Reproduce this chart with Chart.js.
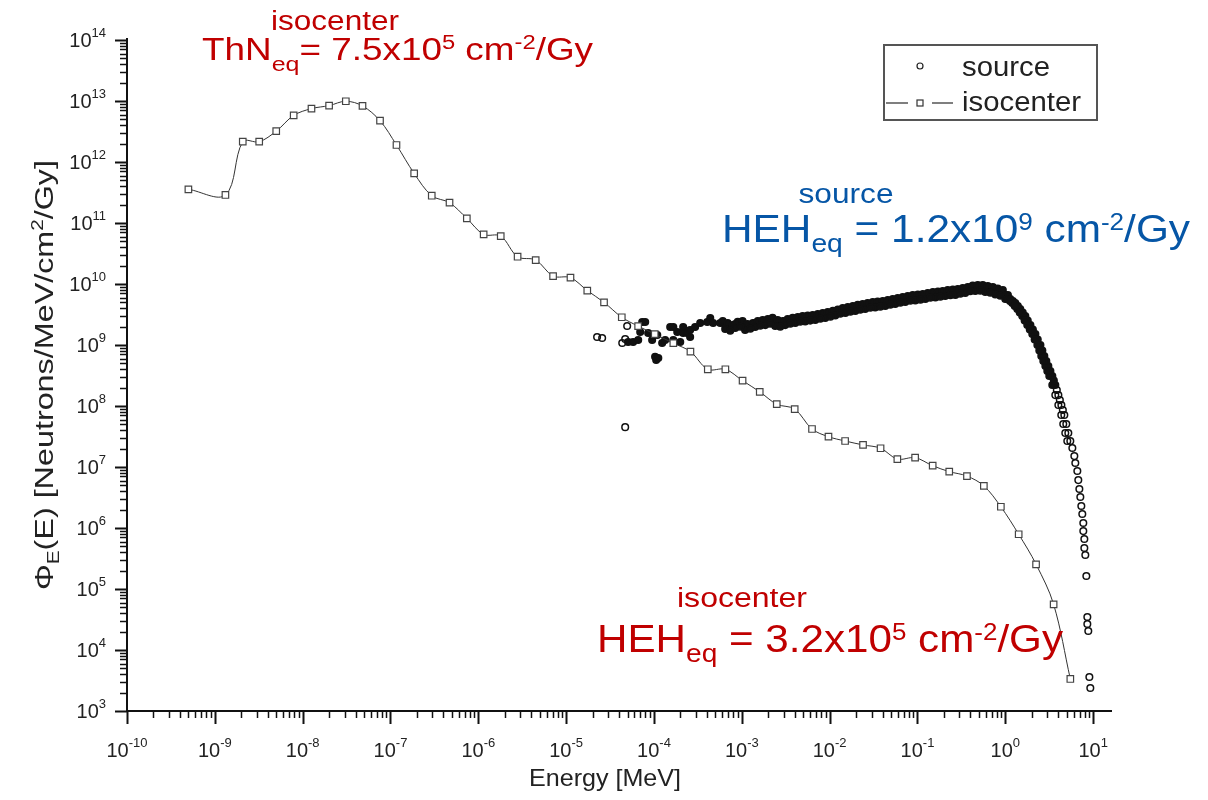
<!DOCTYPE html>
<html>
<head>
<meta charset="utf-8">
<script src="https://cdn.jsdelivr.net/npm/chart.js@4.4.1/dist/chart.umd.min.js"></script>
<style>
  html, body { margin: 0; padding: 0; background: #fff; overflow: hidden; }
  canvas { display: block; }
</style>
</head>
<body>
<canvas id="spectrum" width="1208" height="800"></canvas>
<script>
// isocenter spectrum (squares + line)
const isoEnergy = [5.0e-10, 1.32e-9, 2.08e-9, 3.2e-9, 5.0e-9, 7.9e-9, 1.26e-8, 2.0e-8, 3.1e-8, 4.8e-8,
  7.6e-8, 1.17e-7, 1.86e-7, 2.95e-7, 4.7e-7, 7.4e-7, 1.15e-6, 1.8e-6, 2.8e-6, 4.5e-6,
  7.1e-6, 1.12e-5, 1.74e-5, 2.7e-5, 4.3e-5, 6.6e-5, 1.02e-4, 1.66e-4, 2.6e-4, 4.1e-4,
  6.5e-4, 1.02e-3, 1.6e-3, 2.5e-3, 4.0e-3, 6.3e-3, 9.7e-3, 1.5e-2, 2.4e-2, 3.8e-2,
  5.9e-2, 9.4e-2, 0.149, 0.23, 0.366, 0.57, 0.89, 1.42, 2.24, 3.55, 5.5];
const isoFlux = [3.57e11, 2.88e11, 2.15e12, 2.15e12, 3.2e12, 5.8e12, 7.5e12, 8.4e12, 9.9e12, 8.3e12,
  4.75e12, 1.9e12, 6.5e11, 2.8e11, 2.15e11, 1.19e11, 6.5e10, 6.1e10, 2.8e10, 2.47e10,
  1.35e10, 1.27e10, 7.8e9, 5.0e9, 2.85e9, 2.04e9, 1.51e9, 1.07e9, 7.8e8, 4.0e8,
  4.0e8, 2.6e8, 1.71e8, 1.07e8, 8.9e7, 4.2e7, 3.14e7, 2.67e7, 2.3e7, 2.03e7,
  1.35e7, 1.42e7, 1.05e7, 8.4e6, 7.1e6, 4.9e6, 2.23e6, 7.9e5, 2.54e5, 5.6e4, 3.35e3];

// source spectrum (open circles)
const srcEnergy = [
  // scattered low-energy points
  2.25e-5, 2.57e-5, 4.70e-5, 4.95e-5, 5.08e-5, 5.79e-5, 6.61e-5, 6.97e-5, 7.35e-5, 7.94e-5,
  8.59e-5, 9.53e-5, 9.79e-5, 1.03e-4, 1.06e-4, 1.12e-4, 1.09e-4, 1.24e-4, 1.34e-4, 1.53e-4,
  1.66e-4, 1.66e-4, 1.84e-4, 1.99e-4, 2.15e-4, 2.15e-4, 2.39e-4, 2.58e-4, 2.58e-4, 2.94e-4,
  3.36e-4, 4.04e-4, 4.37e-4, 4.72e-4, 4.35e-5, 4.70e-5,
  // main band, centre
  5.68e-4, 6.47e-4, 7.38e-4, 8.41e-4, 9.59e-4, 1.09e-3, 1.25e-3, 1.42e-3, 1.62e-3, 1.85e-3,
  2.10e-3, 2.40e-3, 2.74e-3, 3.12e-3, 3.56e-3, 4.06e-3, 4.62e-3, 5.27e-3, 6.01e-3, 6.86e-3,
  7.82e-3, 8.91e-3, 1.02e-2, 1.16e-2, 1.32e-2, 1.51e-2, 1.72e-2, 1.96e-2, 2.23e-2, 2.54e-2,
  2.90e-2, 3.30e-2, 3.77e-2, 4.30e-2, 4.90e-2, 5.58e-2, 6.37e-2, 7.26e-2, 8.28e-2, 9.44e-2,
  0.108, 0.123, 0.140, 0.160, 0.182, 0.207, 0.237, 0.270, 0.307, 0.350,
  0.399, 0.455, 0.519, 0.592, 0.675, 0.769, 0.877, 1.00,
  // main band, upper edge
  6.07e-4, 6.91e-4, 7.88e-4, 8.98e-4, 1.02e-3, 1.16e-3, 1.34e-3, 1.52e-3, 1.73e-3, 1.98e-3,
  2.24e-3, 2.56e-3, 2.93e-3, 3.33e-3, 3.80e-3, 4.34e-3, 4.93e-3, 5.63e-3, 6.42e-3, 7.33e-3,
  8.35e-3, 9.52e-3, 1.09e-2, 1.24e-2, 1.41e-2, 1.61e-2, 1.84e-2, 2.09e-2, 2.38e-2, 2.71e-2,
  3.10e-2, 3.52e-2, 4.03e-2, 4.59e-2, 5.23e-2, 5.96e-2, 6.80e-2, 7.75e-2, 8.84e-2, 0.101,
  0.115, 0.131, 0.150, 0.171, 0.194, 0.221, 0.253, 0.288, 0.328, 0.374,
  0.426, 0.486, 0.554, 0.632, 0.721, 0.821, 0.937, 1.07,
  // main band, lower edge
  6.47e-4, 8.41e-4, 1.09e-3, 1.42e-3, 1.85e-3, 2.40e-3, 3.12e-3, 4.06e-3, 5.27e-3, 6.86e-3,
  8.91e-3, 1.16e-2, 1.51e-2, 1.96e-2, 2.54e-2, 3.30e-2, 4.30e-2, 5.58e-2, 7.26e-2, 9.44e-2,
  0.123, 0.160, 0.207, 0.270, 0.350, 0.455, 0.592, 0.769, 1.00,
  7.38e-4, 9.59e-4, 1.25e-3, 1.62e-3, 2.10e-3, 2.74e-3, 3.56e-3, 4.62e-3, 6.01e-3, 7.82e-3,
  1.02e-2, 1.32e-2, 1.72e-2, 2.23e-2, 2.90e-2, 3.77e-2, 4.90e-2, 6.37e-2, 8.28e-2, 0.108,
  0.140, 0.182, 0.237, 0.307, 0.399, 0.519, 0.675, 0.877,
  // high-energy fall-off
  1.14, 1.30, 1.48, 1.69, 1.93, 2.20, 2.51, 2.78, 3.09, 3.43,
  3.71, 4.02, 4.35, 4.70, 4.95, 5.22, 5.50, 5.80, 6.11, 6.27,
  6.61, 6.78, 6.97, 7.15, 7.34, 7.53, 7.73, 7.73, 7.94, 7.94,
  8.15, 8.37, 8.59, 8.59, 8.81, 9.06, 9.29,
  1.05, 1.20, 1.37, 1.56, 1.78, 2.03, 2.32, 2.57, 2.86, 3.17,
  3.43, 3.71, 4.02, 4.34, 4.57, 4.82, 5.08,
  1.22, 1.39, 1.58, 1.80, 2.06, 2.34, 2.64, 2.93, 3.26, 3.57,
  3.86, 4.18, 4.52,
  1.13, 1.28, 1.46, 1.66, 1.90, 2.16, 2.44, 2.71, 3.01];
const srcFlux = [
  1.35e9, 1.30e9, 4.5e7, 2.05e9, 1.12e9, 1.12e9, 1.21e9, 1.63e9, 2.38e9, 2.38e9,
  1.57e9, 1.21e9, 1.46e9, 6.4e8, 5.7e8, 6.1e8, 1.46e9, 1.08e9, 1.21e9, 1.97e9,
  1.21e9, 1.97e9, 1.63e9, 1.12e9, 1.97e9, 1.57e9, 1.57e9, 1.35e9, 1.76e9, 1.97e9,
  2.29e9, 2.38e9, 2.77e9, 2.29e9, 1.08e9, 1.25e9,
  2.29e9, 2.13e9, 1.97e9, 2.21e9, 2.29e9, 2.05e9, 2.13e9, 2.29e9, 2.38e9, 2.47e9,
  2.57e9, 2.38e9, 2.29e9, 2.47e9, 2.57e9, 2.67e9, 2.77e9, 2.82e9, 2.88e9, 2.99e9,
  3.10e9, 3.22e9, 3.35e9, 3.54e9, 3.75e9, 3.89e9, 4.04e9, 4.20e9, 4.36e9, 4.53e9,
  4.70e9, 4.79e9, 4.88e9, 5.07e9, 5.26e9, 5.47e9, 5.68e9, 5.89e9, 6.12e9, 6.24e9,
  6.36e9, 6.60e9, 6.86e9, 6.98e9, 7.11e9, 7.39e9, 7.53e9, 7.67e9, 7.98e9, 8.28e9,
  8.77e9, 8.93e9, 8.93e9, 8.60e9, 8.28e9, 7.82e9, 7.39e9, 6.60e9,
  2.47e9, 2.30e9, 2.13e9, 2.39e9, 2.47e9, 2.21e9, 2.30e9, 2.47e9, 2.57e9, 2.67e9,
  2.78e9, 2.57e9, 2.47e9, 2.67e9, 2.78e9, 2.88e9, 2.99e9, 3.05e9, 3.11e9, 3.23e9,
  3.35e9, 3.48e9, 3.62e9, 3.82e9, 4.05e9, 4.20e9, 4.36e9, 4.54e9, 4.71e9, 4.89e9,
  5.08e9, 5.17e9, 5.27e9, 5.48e9, 5.68e9, 5.91e9, 6.13e9, 6.36e9, 6.61e9, 6.74e9,
  6.87e9, 7.13e9, 7.41e9, 7.54e9, 7.68e9, 7.98e9, 8.13e9, 8.28e9, 8.62e9, 8.94e9,
  9.47e9, 9.64e9, 9.64e9, 9.29e9, 8.94e9, 8.45e9, 7.98e9, 6.60e9,
  1.83e9, 1.90e9, 1.76e9, 1.97e9, 2.12e9, 2.05e9, 2.12e9, 2.30e9, 2.43e9, 2.57e9,
  2.77e9, 3.04e9, 3.35e9, 3.61e9, 3.90e9, 4.12e9, 4.36e9, 4.70e9, 5.07e9, 5.37e9,
  5.68e9, 6.00e9, 6.36e9, 6.60e9, 7.12e9, 7.68e9, 7.40e9, 6.73e9, 5.68e9,
  1.71e9, 1.99e9, 1.85e9, 2.07e9, 2.24e9, 1.99e9, 2.24e9, 2.41e9, 2.51e9, 2.70e9,
  2.91e9, 3.26e9, 3.51e9, 3.79e9, 4.09e9, 4.25e9, 4.58e9, 4.94e9, 5.32e9, 5.53e9,
  5.97e9, 6.19e9, 6.55e9, 6.94e9, 7.63e9, 7.77e9, 7.20e9, 6.43e9,
  5.68e9, 4.88e9, 3.89e9, 2.99e9, 2.13e9, 1.51e9, 1.00e9, 6.6e8, 4.53e8, 3.10e8,
  2.21e8, 1.51e8, 1.04e8, 7.1e7, 5.07e7, 3.61e7, 2.67e7, 2.05e7, 1.51e7, 1.16e7,
  8.6e6, 6.1e6, 4.36e6, 3.22e6, 2.30e6, 1.70e6, 1.21e6, 8.9e5, 6.6e5, 4.70e5,
  3.61e5, 1.63e5, 3.47e4, 2.67e4, 2.05e4, 3.61e3, 2.38e3,
  5.68e9, 4.88e9, 3.89e9, 2.99e9, 2.13e9, 1.51e9, 1.00e9, 6.6e8, 4.53e8, 3.10e8,
  2.21e8, 1.51e8, 1.04e8, 7.1e7, 5.07e7, 3.61e7, 2.67e7,
  5.26e9, 4.36e9, 3.41e9, 2.52e9, 1.80e9, 1.23e9, 8.1e8, 5.47e8, 3.75e8, 2.62e8,
  1.83e8, 1.25e8, 8.6e7,
  5.26e9, 4.36e9, 3.41e9, 2.52e9, 1.80e9, 1.23e9, 8.1e8, 5.47e8, 3.75e8];

// axis decades (labels are 10^n)
const xDecades = [-10, -9, -8, -7, -6, -5, -4, -3, -2, -1, 0, 1];
const yDecades = [3, 4, 5, 6, 7, 8, 9, 10, 11, 12, 13, 14];

const seriesNames = ["source", "isocenter"];

const FONT = '"Liberation Sans", Arial, Helvetica, sans-serif';
const RED = "#C00000";
const BLUE = "#0656A6";

function font(size) {
  return size + "px " + FONT;
}

// draws a line of runs (for sub/superscripts); width stretches it horizontally
function drawRich(ctx, runs, x, y, opt) {
  let natural = 0;
  for (const r of runs) {
    ctx.font = font(r.s);
    natural += ctx.measureText(r.t).width;
  }
  const sx = opt.width ? opt.width / natural : 1;
  const w = natural * sx;
  const x0 = opt.align === "center" ? x - w / 2 : opt.align === "right" ? x - w : x;
  ctx.save();
  ctx.translate(x0, y);
  ctx.scale(sx, 1);
  ctx.fillStyle = opt.color || "#000";
  ctx.textAlign = "left";
  ctx.textBaseline = "alphabetic";
  let cx = 0;
  for (const r of runs) {
    ctx.font = font(r.s);
    ctx.fillText(r.t, cx, r.dy || 0);
    cx += ctx.measureText(r.t).width;
  }
  ctx.restore();
}

const axesPlugin = {
  id: "axesPlugin",
  beforeDatasetsDraw(chart) {
    const { ctx, chartArea: area } = chart;
    const xs = chart.scales.x;
    const ys = chart.scales.y;
    ctx.save();
    ctx.strokeStyle = "#111";
    ctx.lineWidth = 2;
    ctx.beginPath();
    ctx.moveTo(area.left, area.top - 2);
    ctx.lineTo(area.left, area.bottom);
    ctx.lineTo(area.right, area.bottom);
    ctx.stroke();

    // y ticks
    yDecades.forEach((e) => {
      for (let m = 1; m <= 9; m++) {
        const v = m * Math.pow(10, e);
        if (v > ys.max * 1.0001) break;
        const py = Math.round(ys.getPixelForValue(v)) + 0.5;
        ctx.lineWidth = m === 1 ? 2 : 1.5;
        ctx.beginPath();
        ctx.moveTo(area.left - (m === 1 ? 12 : 7), py);
        ctx.lineTo(area.left, py);
        ctx.stroke();
      }
      const py = ys.getPixelForValue(Math.pow(10, e));
      drawRich(ctx, [{ t: "10", s: 20 }, { t: String(e), s: 13, dy: -10 }], 106, py + 7, { align: "right", color: "#222" });
    });

    // x ticks
    xDecades.forEach((e) => {
      for (let m = 1; m <= 9; m++) {
        const v = m * Math.pow(10, e);
        if (v > xs.max) break;
        const px = Math.round(xs.getPixelForValue(v)) + 0.5;
        ctx.lineWidth = m === 1 ? 2 : 1.5;
        ctx.beginPath();
        ctx.moveTo(px, area.bottom);
        ctx.lineTo(px, area.bottom + (m === 1 ? 13 : 7));
        ctx.stroke();
      }
      const px = xs.getPixelForValue(Math.pow(10, e));
      drawRich(ctx, [{ t: "10", s: 20 }, { t: String(e), s: 13, dy: -10 }], px, 757, { align: "center", color: "#222" });
    });

    // axis titles
    drawRich(ctx, [{ t: "Energy [MeV]", s: 24 }], 605, 786, { align: "center", color: "#222", width: 152 });
    ctx.save();
    ctx.translate(53, 375);
    ctx.rotate(-Math.PI / 2);
    drawRich(ctx, [
      { t: "\u03A6", s: 25 }, { t: "E", s: 16, dy: 6 },
      { t: "(E) [Neutrons/MeV/cm", s: 25 }, { t: "2", s: 16, dy: -10 },
      { t: "/Gy]", s: 25 }
    ], 0, 0, { align: "center", color: "#222", width: 430 });
    ctx.restore();
    ctx.restore();
  },
  afterDraw(chart) {
    const { ctx } = chart;
    ctx.save();
    // legend
    ctx.strokeStyle = "#555";
    ctx.lineWidth = 2;
    ctx.strokeRect(884, 45, 213, 75);
    ctx.strokeStyle = "#222";
    ctx.lineWidth = 1.2;
    ctx.beginPath();
    ctx.arc(920, 66, 3, 0, Math.PI * 2);
    ctx.stroke();
    ctx.strokeStyle = "#555";
    ctx.lineWidth = 1.5;
    ctx.beginPath();
    ctx.moveTo(886, 103); ctx.lineTo(908, 103);
    ctx.moveTo(932, 103); ctx.lineTo(953, 103);
    ctx.stroke();
    ctx.strokeStyle = "#333";
    ctx.lineWidth = 1.2;
    ctx.strokeRect(917, 100, 6, 6);
    drawRich(ctx, [{ t: seriesNames[0], s: 27 }], 962, 76, { color: "#222", width: 88 });
    drawRich(ctx, [{ t: seriesNames[1], s: 27 }], 962, 111, { color: "#222", width: 119 });

    // annotations
    drawRich(ctx, [{ t: "isocenter", s: 27 }], 335, 30, { align: "center", color: RED, width: 128 });
    drawRich(ctx, [
      { t: "ThN", s: 31 }, { t: "eq", s: 21, dy: 11 }, { t: "= 7.5x10", s: 31 },
      { t: "5", s: 20, dy: -11 }, { t: " cm", s: 31 }, { t: "-2", s: 20, dy: -11 }, { t: "/Gy", s: 31 }
    ], 202, 60, { color: RED, width: 391 });

    drawRich(ctx, [{ t: "source", s: 27 }], 846, 203, { align: "center", color: BLUE, width: 95 });
    drawRich(ctx, [
      { t: "HEH", s: 39 }, { t: "eq", s: 26, dy: 10 }, { t: " = 1.2x10", s: 39 },
      { t: "9", s: 24, dy: -12 }, { t: " cm", s: 39 }, { t: "-2", s: 24, dy: -12 }, { t: "/Gy", s: 39 }
    ], 722, 242, { color: BLUE, width: 468 });

    drawRich(ctx, [{ t: "isocenter", s: 27 }], 742, 607, { align: "center", color: RED, width: 130 });
    drawRich(ctx, [
      { t: "HEH", s: 39 }, { t: "eq", s: 26, dy: 10 }, { t: " = 3.2x10", s: 39 },
      { t: "5", s: 24, dy: -12 }, { t: " cm", s: 39 }, { t: "-2", s: 24, dy: -12 }, { t: "/Gy", s: 39 }
    ], 597, 652, { color: RED, width: 466 });
    ctx.restore();
  }
};

// where the source points pile up so densely that they print as a solid band
function bandFill(c) {
  const p = c.raw;
  return p && p.x >= 5e-5 && p.y >= 2e8 ? "#111" : "rgba(0,0,0,0)";
}

new Chart(document.getElementById("spectrum"), {
  type: "line",
  data: {
    datasets: [
      {
        label: seriesNames[0],
        data: srcEnergy.map((x, i) => ({ x, y: srcFlux[i] })),
        showLine: false,
        pointStyle: "circle",
        pointRadius: 3.3,
        pointBorderWidth: 1.5,
        pointBorderColor: "#111",
        pointBackgroundColor: bandFill,
        order: 1,
        clip: false
      },
      {
        label: seriesNames[1],
        data: isoEnergy.map((x, i) => ({ x, y: isoFlux[i] })),
        showLine: true,
        borderColor: "#333",
        borderWidth: 1,
        tension: 0.35,
        pointStyle: "rect",
        pointRadius: 4.6,
        pointBorderWidth: 1.2,
        pointBorderColor: "#444",
        pointBackgroundColor: "#fff",
        order: 0,
        clip: false
      }
    ]
  },
  options: {
    responsive: false,
    animation: false,
    devicePixelRatio: 1,
    layout: { padding: { left: 127, right: 96, top: 40, bottom: 89 } },
    plugins: { legend: { display: false }, tooltip: { enabled: false } },
    scales: {
      x: { type: "logarithmic", min: 1e-10, max: 16.4, display: false },
      y: { type: "logarithmic", min: 1e3, max: 1e14, display: false }
    }
  },
  plugins: [axesPlugin]
});
</script>
</body>
</html>
